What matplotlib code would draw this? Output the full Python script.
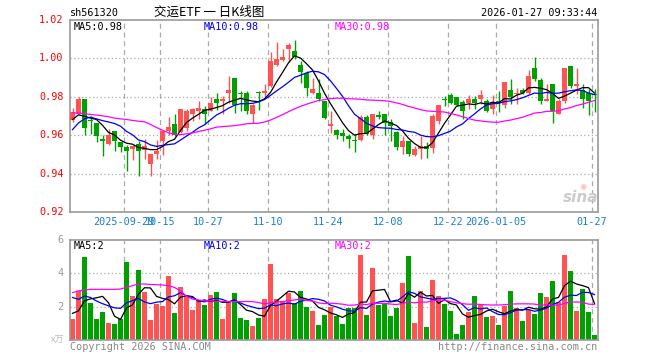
import numpy as np
import pandas as pd
import matplotlib
matplotlib.use("Agg")
import matplotlib.pyplot as plt

# ---------------- data ----------------
open_ = [0.968, 0.9713, 0.9787, 0.9677, 0.9664, 0.9582, 0.9556, 0.9624, 0.9565, 0.9537,
         0.9528, 0.9556, 0.9525, 0.9451, 0.9504, 0.9568, 0.9624, 0.9656, 0.9615, 0.9635,
         0.9713, 0.9725, 0.9734, 0.9725, 0.9787, 0.9778, 0.9818, 0.9897, 0.9822, 0.9818,
         0.9713, 0.9822, 0.9822, 0.9856, 0.9965, 0.9993, 1.0049, 1.0036, 0.9965, 0.9926,
         0.9818, 0.9818, 0.9778, 0.9650, 0.9626, 0.9612, 0.9594, 0.9577, 0.9577, 0.9696,
         0.9603, 0.9703, 0.9713, 0.9668, 0.9615, 0.9537, 0.9568, 0.9498, 0.9528, 0.9546,
         0.9533, 0.9673, 0.9787, 0.9808, 0.9799, 0.9774, 0.9769, 0.9787, 0.9787, 0.9778,
         0.9738, 0.9778, 0.9757, 0.9834, 0.9813, 0.9834, 0.9822, 0.9949, 0.9888, 0.9778,
         0.9865, 0.9713, 0.9778, 0.9958, 0.9856, 0.9836, 0.9822, 0.9816]
high = [0.974, 0.9799, 0.9787, 0.9699, 0.9664, 0.9603, 0.9633, 0.9624, 0.9565, 0.9551,
        0.9551, 0.9568, 0.9582, 0.9504, 0.9577, 0.9629, 0.9696, 0.9708, 0.9734, 0.9734,
        0.9743, 0.9778, 0.9752, 0.9799, 0.9818, 0.9804, 0.9909, 0.9897, 0.9830, 0.9830,
        0.9760, 0.9830, 0.9865, 1.0031, 1.0084, 1.0049, 1.0078, 1.0095, 0.9987, 0.9935,
        0.9900, 0.9891, 0.9778, 0.9725, 0.9633, 0.9633, 0.9607, 0.9607, 0.9703, 0.9703,
        0.9708, 0.9725, 0.9713, 0.9682, 0.9621, 0.9594, 0.9572, 0.9546, 0.9598, 0.9563,
        0.9708, 0.9755, 0.9804, 0.9818, 0.9799, 0.9783, 0.9808, 0.9804, 0.9834, 0.9787,
        0.9808, 0.9830, 0.9877, 0.9895, 0.9844, 0.9848, 0.9940, 1.0005, 0.9900, 0.9869,
        0.9865, 0.9787, 0.9949, 0.9958, 0.9949, 0.9865, 0.9839, 0.9839]
low = [0.967, 0.9713, 0.9600, 0.9607, 0.9563, 0.9490, 0.9551, 0.9519, 0.9511, 0.9411,
       0.9469, 0.9388, 0.9477, 0.9388, 0.9477, 0.9498, 0.9603, 0.9594, 0.9612, 0.9621,
       0.9673, 0.9682, 0.9656, 0.9725, 0.9731, 0.9708, 0.9769, 0.9717, 0.9725, 0.9713,
       0.9661, 0.9731, 0.9795, 0.9853, 0.9961, 0.9987, 0.9982, 0.9996, 0.9874, 0.9804,
       0.9813, 0.9778, 0.9682, 0.9612, 0.9580, 0.9568, 0.9533, 0.9512, 0.9572, 0.9603,
       0.9582, 0.9682, 0.9600, 0.9572, 0.9525, 0.9502, 0.9490, 0.9490, 0.9477, 0.9481,
       0.9507, 0.9656, 0.9752, 0.9760, 0.9752, 0.9685, 0.9734, 0.9734, 0.9760, 0.9720,
       0.9708, 0.9720, 0.9743, 0.9760, 0.9764, 0.9813, 0.9813, 0.9883, 0.9760, 0.9778,
       0.9664, 0.9713, 0.9769, 0.9848, 0.9813, 0.9743, 0.9703, 0.9720]
close = [0.972, 0.9787, 0.9635, 0.9673, 0.9594, 0.9568, 0.9603, 0.9568, 0.9537, 0.9516,
         0.9542, 0.9516, 0.9546, 0.9504, 0.9516, 0.9624, 0.9645, 0.9603, 0.9734, 0.9725,
         0.9738, 0.9743, 0.9708, 0.9766, 0.9766, 0.9787, 0.9834, 0.9757, 0.9816, 0.9725,
         0.9757, 0.9818, 0.9830, 0.9984, 0.9996, 1.0005, 1.0071, 1.0008, 0.9930, 0.9848,
         0.9842, 0.9787, 0.9687, 0.9656, 0.9603, 0.9594, 0.9580, 0.9568, 0.9696, 0.9607,
         0.9708, 0.9696, 0.9664, 0.9647, 0.9537, 0.9568, 0.9504, 0.9528, 0.9546, 0.9528,
         0.9699, 0.9755, 0.9781, 0.9766, 0.9755, 0.9725, 0.9787, 0.9766, 0.9808, 0.9725,
         0.9773, 0.9769, 0.9877, 0.9801, 0.9822, 0.9822, 0.9909, 0.9891, 0.9778, 0.9787,
         0.9725, 0.9778, 0.9949, 0.9856, 0.9865, 0.9790, 0.9778, 0.9808]
volume = [1.26, 2.94, 4.98, 2.22, 1.26, 1.70, 1.02, 0.94, 1.26, 4.68,
          2.66, 4.20, 2.88, 1.20, 2.16, 2.04, 3.84, 1.62, 3.18, 2.60,
          1.80, 2.34, 2.10, 2.70, 2.90, 1.26, 2.34, 2.82, 1.32, 1.20,
          0.84, 1.32, 2.46, 4.56, 2.46, 2.34, 2.82, 2.22, 2.94, 1.98,
          1.74, 0.90, 1.50, 1.98, 1.44, 0.96, 1.92, 1.92, 5.10, 1.50,
          4.32, 2.10, 2.16, 1.44, 1.92, 3.42, 5.04, 1.02, 2.94, 0.78,
          3.60, 2.64, 2.16, 1.74, 0.36, 0.90, 1.68, 2.64, 2.10, 1.38,
          1.44, 0.90, 2.04, 2.94, 1.92, 1.14, 1.80, 1.56, 2.82, 2.58,
          3.54, 2.28, 5.10, 4.14, 1.74, 3.06, 1.68, 0.30]

# moving-average values at the left edge (earlier data not shown)
ma5_head = [0.9682, 0.9706, 0.9699, 0.9689]
ma10_head = [0.9629, 0.9664, 0.9685, 0.9694, 0.9685, 0.9676, 0.9669, 0.9661, 0.9647]
ma30_head = [0.9717, 0.9715, 0.9713, 0.9708, 0.9705, 0.9701, 0.9696, 0.9689, 0.9685,
             0.9682, 0.9677, 0.9673, 0.9670, 0.9656, 0.9640, 0.9626, 0.9612, 0.9605,
             0.9603, 0.9607, 0.9612, 0.9619, 0.9626, 0.9633, 0.9642, 0.9645, 0.9647,
             0.9650, 0.9654]
vma5_head = [1.60, 1.75, 2.35, 2.47]
vma10_head = [2.55, 2.44, 2.64, 2.55, 2.34, 2.18, 2.05, 1.93, 1.90]
vma30_head = [2.84, 2.95, 3.00, 3.04, 3.04, 3.04, 3.04, 3.04, 3.06, 3.16,
              3.26, 3.36, 3.36, 3.33, 3.32, 3.30, 3.26, 3.15, 2.95, 2.62,
              2.45, 2.40, 2.36, 2.34, 2.32, 2.32, 2.30, 2.30, 2.30]

date_pos = [9, 15, 23, 33, 43, 53, 63, 71, 87]
date_labels = ["2025-09-29", "10-15", "10-27", "11-10", "11-24", "12-08",
               "12-22", "2026-01-05", "01-27"]
price_ticks = [0.92, 0.94, 0.96, 0.98, 1.00, 1.02]
vol_ticks = [2, 4, 6]

# ---------------- helpers ----------------
def ma(values, n, head):
    s = pd.Series(values).rolling(n).mean().to_numpy()
    s[:len(head)] = head
    return s

W, H = 660, 360
RED = "#ff5252"
GREEN = "#00a000"
GRID = "#aaaaaa"
MONO = "DejaVu Sans Mono"

fig = plt.figure(figsize=(W / 100, H / 100), dpi=100)
fig.patch.set_facecolor("white")

def rect(x0, y0, x1, y1):
    return [x0 / W, 1 - y1 / H, (x1 - x0) / W, (y1 - y0) / H]

def ft(x, y, s, **kw):
    fig.text(x / W, 1 - y / H, s, **kw)

ax = fig.add_axes(rect(70, 20, 598, 212))
axv = fig.add_axes(rect(70, 240, 598, 340))

n = len(close)
x = np.arange(n)
o = np.array(open_); c = np.array(close); hi = np.array(high); lo = np.array(low)
up = c >= o
cols = np.where(up, RED, GREEN)
bw = 5 / 6
xl = (-5 / 12, n - 5 / 12)

for a in (ax, axv):
    a.set_xlim(*xl)
    for s in a.spines.values():
        s.set_color("#999999")
        s.set_linewidth(1.2)
    a.set_xticks([])
    a.set_yticks([])
    for k in date_pos:
        a.axvline(k - 5 / 12, color=GRID, ls=(0, (4, 3)), lw=0.9, zorder=0)

# price panel
ax.set_ylim(0.92, 1.02)
for t in price_ticks[1:-1]:
    ax.axhline(t, color=GRID, ls=(0, (1, 2)), lw=0.9, zorder=0)
ax.vlines(x, lo, hi, colors=cols, lw=1.0, zorder=2)
body_h = np.maximum(np.abs(c - o), 0.0006)
ax.bar(x, body_h, bottom=np.minimum(o, c), width=bw, color=cols, lw=0, zorder=3)
ma5 = ma(close, 5, ma5_head)
ma10 = ma(close, 10, ma10_head)
ma30 = ma(close, 30, ma30_head)
ax.plot(x, ma5, color="black", lw=0.9, zorder=4)
ax.plot(x, ma10, color="#0000ee", lw=0.9, zorder=4)
ax.plot(x, ma30, color="#ff00ff", lw=0.9, zorder=4)

# volume panel
axv.set_ylim(0, 6)
for t in vol_ticks[:-1]:
    axv.axhline(t, color=GRID, ls=(0, (1, 2)), lw=0.9, zorder=0)
axv.bar(x, volume, width=bw, color=cols, lw=0, zorder=2)
vma5 = ma(volume, 5, vma5_head)
vma10 = ma(volume, 10, vma10_head)
vma30 = ma(volume, 30, vma30_head)
axv.plot(x, vma5, color="black", lw=0.9, zorder=4)
axv.plot(x, vma10, color="#0000ee", lw=0.9, zorder=4)
axv.plot(x, vma30, color="#ff00ff", lw=0.9, zorder=4)

# tick labels
for t in price_ticks:
    ax.text(-0.012, t, f"{t:.2f}", transform=ax.get_yaxis_transform(),
            ha="right", va="center", color="red", family=MONO, fontsize=7.3)
for t in vol_ticks:
    axv.text(-0.012, t, f"{t}", transform=axv.get_yaxis_transform(),
             ha="right", va="center", color="#999999", family=MONO, fontsize=7.3)
ft(58, 340, "x万", ha="center", va="center", color="#bbbbbb", fontsize=6.5,
   family=["Noto Sans CJK SC", "DejaVu Sans"])
for k, lab in zip(date_pos, date_labels):
    ax.text(k - 5 / 12, -0.05, lab, transform=ax.get_xaxis_transform(),
            ha="center", va="center", color="#1a7fd0", family=MONO, fontsize=7.3)

# header
ft(70, 13, "sh561320", ha="left", va="center", family=MONO, fontsize=7.3)
ft(209, 12, "交运ETF 一 日K线图", ha="center", va="center", fontsize=9,
   family=["Noto Sans CJK SC", "DejaVu Sans"])
ft(597, 13, "2026-01-27 09:33:44", ha="right", va="center", family=MONO, fontsize=7.3)

# MA legends (last values)
ft(74, 27, f"MA5:{ma5[-1]:.2f}", ha="left", va="center", family=MONO, fontsize=7.3)
ft(204, 27, f"MA10:{ma10[-1]:.2f}", ha="left", va="center", family=MONO,
   fontsize=7.3, color="#0000ee")
ft(335, 27, f"MA30:{ma30[-1]:.2f}", ha="left", va="center", family=MONO,
   fontsize=7.3, color="#ff00ff")
ft(74, 246, f"MA5:{int(vma5[-1])}", ha="left", va="center", family=MONO, fontsize=7.3)
ft(204, 246, f"MA10:{int(vma10[-1])}", ha="left", va="center", family=MONO,
   fontsize=7.3, color="#0000ee")
ft(335, 246, f"MA30:{int(vma30[-1])}", ha="left", va="center", family=MONO,
   fontsize=7.3, color="#ff00ff")

# footer
ft(70, 347, "Copyright 2026 SINA.COM", ha="left", va="center", family=MONO,
   fontsize=7.3, color="#888888")
ft(597, 347, "http://finance.sina.com.cn", ha="right", va="center", family=MONO,
   fontsize=7.3, color="#888888")

# watermark
ft(581, 197, "sina", ha="center", va="center", fontsize=11, fontweight="bold",
   style="italic", color="#cccccc")
ft(583, 186, "◉", ha="center", va="center", fontsize=6, color="#f2c0c0")

fig.savefig("out.png", dpi=100)
